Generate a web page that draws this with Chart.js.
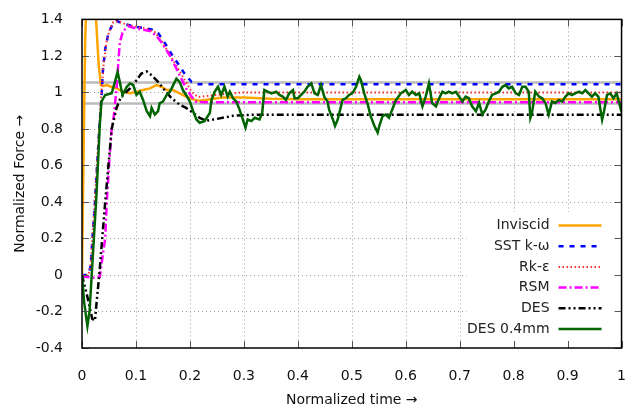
<!DOCTYPE html>
<html>
<head>
<meta charset="utf-8">
<script src="https://cdn.jsdelivr.net/npm/chart.js@4"></script>
<style>
  html, body { margin: 0; padding: 0; background: #fff; }
  canvas { display: block; }
</style>
</head>
<body>
<canvas id="myChart" width="638" height="409"></canvas>
<script>
// tick labels
const xTickLabels = ['0', '0.1', '0.2', '0.3', '0.4', '0.5', '0.6', '0.7', '0.8', '0.9', '1'];
const yTickLabels = ['-0.4', '-0.2', '0', '0.2', '0.4', '0.6', '0.8', '1', '1.2', '1.4'];

// tolerance band around 1
const bandHigh = [[0, 1.055], [1, 1.055]];
const bandLow = [[0, 0.94], [1, 0.94]];

// series, [normalized time, normalized force]
const inviscid = [[0,0],[0.003,0.7],[0.006,1.3],[0.009,1.55],[0.013,1.62],[0.019,1.62],[0.023,1.55],[0.027,1.35],
  [0.031,1.15],[0.035,1.04],[0.04,1.035],[0.046,1.04],[0.055,1.03],[0.064,1.022],[0.076,1.004],[0.089,0.995],
  [0.101,1.004],[0.113,1.013],[0.126,1.022],[0.138,1.04],[0.147,1.031],[0.157,1.013],[0.169,1.013],[0.181,0.995],
  [0.193,0.977],[0.206,0.962],[0.218,0.955],[0.237,0.962],[0.26,0.972],[0.3,0.972],[0.35,0.965],[0.4,0.962],[1,0.962]];

const sstKw = [[0,0],[0.012,0],[0.016,0.05],[0.024,0.4],[0.032,0.8],[0.036,0.97],[0.039,1.13],[0.043,1.237],
  [0.049,1.326],[0.058,1.38],[0.064,1.392],[0.076,1.377],[0.095,1.362],[0.113,1.353],[0.129,1.345],[0.141,1.326],
  [0.153,1.273],[0.166,1.21],[0.178,1.157],[0.19,1.103],[0.203,1.058],[0.212,1.045],[0.23,1.045],[1,1.045]];

const rkEps = [[0,0],[0.012,0],[0.016,0.05],[0.024,0.42],[0.032,0.82],[0.036,1.0],[0.04,1.15],[0.045,1.27],
  [0.051,1.34],[0.058,1.385],[0.066,1.39],[0.08,1.375],[0.1,1.36],[0.12,1.35],[0.135,1.33],[0.148,1.28],
  [0.16,1.22],[0.172,1.16],[0.184,1.1],[0.195,1.045],[0.204,1.0],[0.215,0.975],[0.23,0.98],[0.26,0.99],
  [0.3,1.0],[1,1.0]];

const rsm = [[0,0],[0.006,-0.01],[0.02,-0.015],[0.033,-0.01],[0.038,0.1],[0.043,0.2],[0.046,0.4],[0.05,0.6],
  [0.055,0.8],[0.058,0.843],[0.064,1.022],[0.067,1.148],[0.07,1.273],[0.076,1.336],[0.086,1.362],[0.098,1.353],
  [0.11,1.345],[0.126,1.336],[0.138,1.309],[0.15,1.264],[0.163,1.201],[0.175,1.13],[0.184,1.076],[0.193,1.022],
  [0.203,0.977],[0.212,0.948],[0.225,0.946],[1,0.946]];

const des = [[0,0],[0.01,-0.12],[0.019,-0.24],[0.024,-0.25],[0.028,-0.12],[0.032,0],[0.043,0.4],[0.055,0.8],
  [0.064,0.915],[0.07,0.959],[0.076,0.986],[0.089,1.022],[0.101,1.067],[0.11,1.103],[0.12,1.115],[0.129,1.094],
  [0.141,1.058],[0.153,1.013],[0.166,0.968],[0.181,0.933],[0.193,0.915],[0.206,0.888],[0.218,0.861],[0.23,0.845],
  [0.25,0.855],[0.28,0.872],[0.32,0.878],[1,0.878]];

const des04 = [[0,0],[0.004,-0.15],[0.01,-0.28],[0.014,-0.2],[0.018,0],[0.027,0.45],[0.033,0.82],[0.036,0.95],
  [0.043,0.986],[0.055,0.995],[0.061,1.058],[0.066,1.112],[0.07,1.058],[0.075,0.986],[0.083,1.031],[0.089,1.049],
  [0.095,1.04],[0.101,0.986],[0.107,1.004],[0.113,0.96],[0.12,0.897],[0.126,0.87],[0.129,0.915],[0.135,0.879],
  [0.141,0.897],[0.144,0.942],[0.15,0.95],[0.157,0.986],[0.163,1.004],[0.169,1.04],[0.175,1.076],[0.181,1.058],
  [0.187,1.013],[0.193,0.986],[0.2,0.95],[0.206,0.897],[0.212,0.852],[0.218,0.834],[0.227,0.843],[0.237,0.888],
  [0.24,0.959],[0.246,1.004],[0.252,1.031],[0.258,0.986],[0.264,1.031],[0.27,0.977],[0.274,1.004],[0.28,0.968],
  [0.286,0.95],[0.292,0.906],[0.298,0.852],[0.303,0.807],[0.307,0.852],[0.314,0.843],[0.32,0.861],[0.329,0.852],
  [0.334,0.888],[0.338,1.013],[0.344,1.004],[0.351,0.995],[0.36,1.004],[0.366,0.986],[0.372,0.977],[0.378,0.959],
  [0.384,0.995],[0.391,1.013],[0.394,0.968],[0.4,0.968],[0.406,0.986],[0.412,1.004],[0.418,1.031],[0.425,1.049],
  [0.431,0.995],[0.437,0.986],[0.443,1.04],[0.449,0.977],[0.455,0.95],[0.458,0.906],[0.465,0.852],[0.469,0.816],
  [0.474,0.852],[0.48,0.924],[0.483,0.959],[0.489,0.968],[0.495,0.986],[0.501,0.995],[0.508,1.031],[0.514,1.085],
  [0.517,1.067],[0.523,0.995],[0.529,0.942],[0.535,0.87],[0.542,0.816],[0.548,0.78],[0.551,0.816],[0.557,0.87],
  [0.563,0.879],[0.569,0.861],[0.575,0.906],[0.582,0.959],[0.591,0.995],[0.6,1.013],[0.606,0.986],[0.612,1.004],
  [0.619,0.986],[0.625,0.995],[0.631,0.924],[0.637,0.977],[0.643,1.049],[0.649,0.942],[0.656,0.924],[0.662,0.968],
  [0.668,1.004],[0.674,0.995],[0.68,1.004],[0.686,0.995],[0.693,1.004],[0.699,0.977],[0.705,0.95],[0.711,0.977],
  [0.717,0.968],[0.723,0.924],[0.73,0.897],[0.736,0.942],[0.742,0.879],[0.748,0.906],[0.754,0.95],[0.76,0.986],
  [0.767,0.995],[0.773,1.004],[0.779,1.031],[0.785,1.04],[0.791,1.022],[0.797,1.031],[0.804,0.995],[0.81,0.986],
  [0.816,1.031],[0.822,1.031],[0.828,1.004],[0.831,0.861],[0.834,0.888],[0.84,1.004],[0.847,0.977],[0.853,0.968],
  [0.859,0.942],[0.865,0.879],[0.871,0.95],[0.877,0.942],[0.884,0.959],[0.89,0.95],[0.896,0.977],[0.902,0.995],
  [0.908,0.986],[0.914,0.995],[0.921,1.004],[0.927,0.995],[0.933,1.013],[0.939,0.995],[0.945,0.977],[0.951,0.995],
  [0.957,0.977],[0.964,0.85],[0.967,0.888],[0.973,0.986],[0.979,0.995],[0.985,0.968],[0.991,0.995],[0.998,0.915],
  [1,0.942]];

const FONT = 'DejaVu Sans';
const pts = arr => arr.map(p => ({ x: p[0], y: p[1] }));

function line(label, data, color, width, dash, order) {
  return {
    label: label,
    data: pts(data),
    borderColor: color,
    borderWidth: width,
    borderDash: dash,
    pointRadius: 0,
    tension: 0,
    fill: false,
    order: order
  };
}

// gnuplot style frame: dotted grid, border and ticks on all four sides
const framePlugin = {
  id: 'frame',
  beforeDatasetsDraw(chart) {
    const ctx = chart.ctx;
    const a = chart.chartArea;
    const xs = chart.scales.x, ys = chart.scales.y;
    ctx.save();
    ctx.strokeStyle = '#a0a0a0';
    ctx.lineWidth = 1;
    ctx.setLineDash([1, 3]);
    xs.ticks.forEach((t, i) => {
      if (i === 0 || i === xs.ticks.length - 1) return;
      const px = Math.round(xs.getPixelForValue(t.value)) + 0.5;
      ctx.beginPath(); ctx.moveTo(px, a.top); ctx.lineTo(px, a.bottom); ctx.stroke();
    });
    ys.ticks.forEach((t, i) => {
      if (i === 0 || i === ys.ticks.length - 1) return;
      const py = Math.round(ys.getPixelForValue(t.value)) + 0.5;
      ctx.beginPath(); ctx.moveTo(a.left, py); ctx.lineTo(a.right, py); ctx.stroke();
    });
    ctx.restore();
  },
  afterDatasetsDraw(chart) {
    const ctx = chart.ctx;
    const a = chart.chartArea;
    const xs = chart.scales.x, ys = chart.scales.y;
    ctx.save();

    // key, opaque white box in the lower right corner
    const entries = chart.data.datasets.filter(d => d.label);
    const step = 20.7;
    const boxTop = a.bottom - 19 - step * (entries.length - 0.5) - 3;
    ctx.fillStyle = '#fff';
    ctx.fillRect(a.right - 155, boxTop, 155, a.bottom - boxTop);
    ctx.font = '14px "' + FONT + '"';
    ctx.textAlign = 'right';
    ctx.textBaseline = 'middle';
    entries.forEach((d, i) => {
      const y = a.bottom - 19 - step * (entries.length - 1 - i);
      ctx.fillStyle = '#222';
      ctx.fillText(d.label, a.right - 72, y);
      ctx.strokeStyle = d.borderColor;
      ctx.lineWidth = d.borderWidth;
      ctx.setLineDash(d.borderDash || []);
      ctx.beginPath(); ctx.moveTo(a.right - 63, y); ctx.lineTo(a.right - 20, y); ctx.stroke();
    });

    // tick marks
    ctx.setLineDash([]);
    ctx.strokeStyle = '#555';
    ctx.lineWidth = 1;
    const tl = 7;
    xs.ticks.forEach(t => {
      const px = Math.round(xs.getPixelForValue(t.value)) + 0.5;
      ctx.beginPath();
      ctx.moveTo(px, a.bottom); ctx.lineTo(px, a.bottom - tl);
      ctx.moveTo(px, a.top); ctx.lineTo(px, a.top + tl);
      ctx.stroke();
    });
    ys.ticks.forEach(t => {
      const py = Math.round(ys.getPixelForValue(t.value)) + 0.5;
      ctx.beginPath();
      ctx.moveTo(a.left, py); ctx.lineTo(a.left + tl, py);
      ctx.moveTo(a.right, py); ctx.lineTo(a.right - tl, py);
      ctx.stroke();
    });

    // border
    ctx.strokeStyle = '#000';
    ctx.lineWidth = 1.5;
    ctx.strokeRect(a.left, a.top, a.right - a.left, a.bottom - a.top);
    ctx.restore();
  }
};

const ctx = document.getElementById('myChart').getContext('2d');
const chart = new Chart(ctx, {
  type: 'line',
  data: {
    datasets: [
      line('Inviscid', inviscid, '#ffa500', 2.5, [], 6),
      line('SST k-ω', sstKw, '#0000ff', 2.5, [5, 6], 5),
      line('Rk-ε', rkEps, '#ff3030', 2, [1.5, 2.5], 4),
      line('RSM', rsm, '#ff00ff', 2.5, [8, 3, 2, 3], 3),
      line('DES', des, '#000000', 2.5, [7, 3, 2, 3, 2, 3], 2),
      line('DES 0.4mm', des04, '#006400', 2.5, [], 1),
      line('', bandHigh, '#bbbbbb', 2.5, [], 10),
      line('', bandLow, '#bbbbbb', 2.5, [], 10)
    ]
  },
  options: {
    responsive: false,
    animation: false,
    devicePixelRatio: 1,
    layout: { padding: { top: 13, right: 15, left: 0, bottom: 0 } },
    plugins: {
      legend: { display: false },
      tooltip: { enabled: false }
    },
    scales: {
      x: {
        type: 'linear',
        min: 0,
        max: 1,
        grid: { display: false },
        border: { display: false },
        ticks: {
          stepSize: 0.1,
          autoSkip: false,
          maxRotation: 0,
          padding: 12,
          color: '#111',
          font: { family: FONT, size: 14 },
          callback: (v, i) => xTickLabels[i]
        },
        title: {
          display: true,
          text: 'Normalized time →',
          color: '#111',
          font: { family: FONT, size: 14 },
          padding: { top: 3, bottom: 0 }
        },
        afterFit: s => { s.height = 61; }
      },
      y: {
        type: 'linear',
        min: -0.4,
        max: 1.4,
        grid: { display: false },
        border: { display: false },
        ticks: {
          stepSize: 0.2,
          autoSkip: false,
          padding: 11,
          color: '#111',
          font: { family: FONT, size: 14 },
          callback: (v, i) => yTickLabels[i]
        },
        title: {
          display: true,
          text: 'Normalized Force →',
          color: '#111',
          font: { family: FONT, size: 14 },
          padding: { top: 12, bottom: 0 }
        },
        afterFit: s => { s.width = 82; }
      }
    }
  },
  plugins: [framePlugin]
});
</script>
</body>
</html>
